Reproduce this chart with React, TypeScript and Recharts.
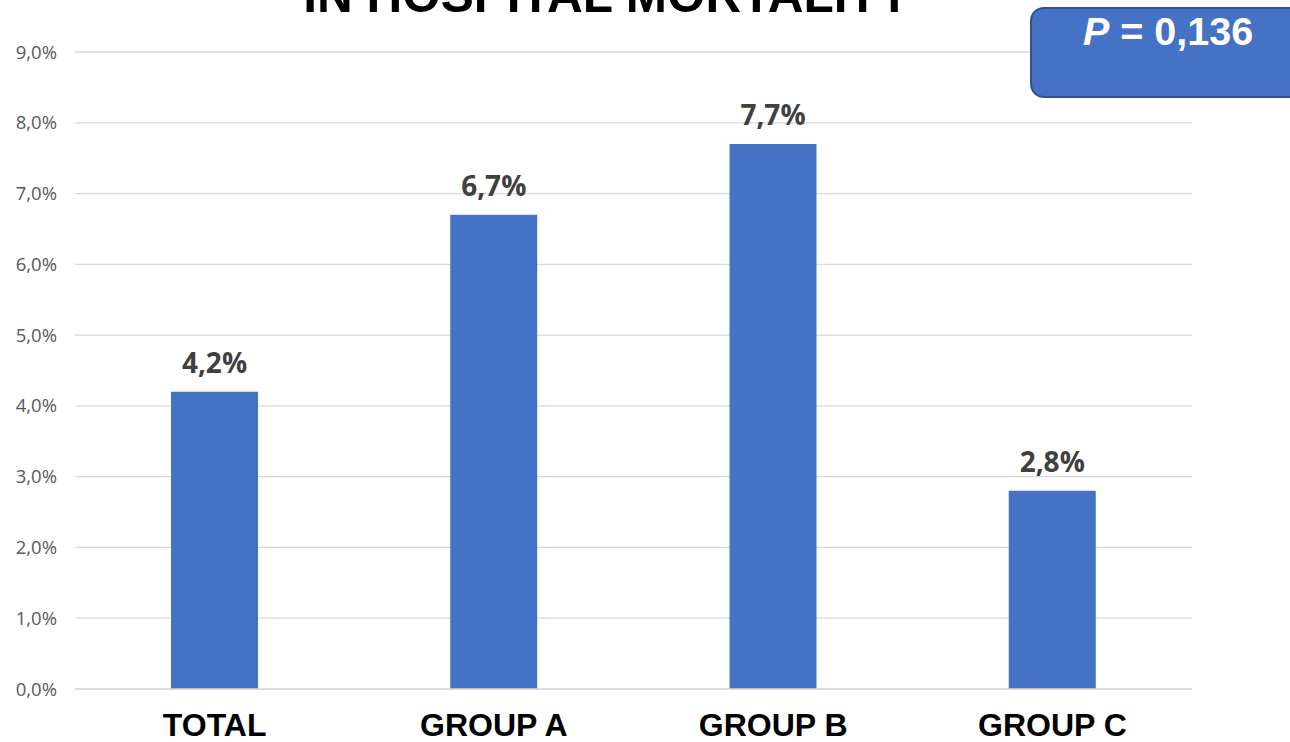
import { Bar, BarChart, CartesianGrid, LabelList, XAxis, YAxis } from "recharts";

const categories = ["TOTAL", "GROUP A", "GROUP B", "GROUP C"];
const mortality = [4.2, 6.7, 7.7, 2.8];
const yTicks = [0, 1, 2, 3, 4, 5, 6, 7, 8, 9];

const data = categories.map((name, i) => ({ name, value: mortality[i] }));

const fmt = (v: number) => `${v.toFixed(1).replace(".", ",")}%`;

export default function App() {
  return (
    <div style={{ position: "absolute", left: 0, top: 0, width: 1290, height: 742, overflow: "hidden", background: "#fff" }}>
      <BarChart
        width={1290}
        height={742}
        data={data}
        margin={{ top: 52, right: 98, left: 0, bottom: 0 }}
      >
        <CartesianGrid vertical={false} stroke="#D9D9D9" strokeWidth={1.3} />
        <XAxis
          dataKey="name"
          height={53}
          axisLine={{ stroke: "#D9D9D9", strokeWidth: 1.5 }}
          tickLine={false}
          tickSize={0}
          tickMargin={24}
          interval={0}
          tick={{ fill: "#000", fontSize: 32, fontWeight: 700, fontFamily: "'Liberation Sans', Arial, sans-serif" }}
        />
        <YAxis
          width={75}
          domain={[0, 9]}
          ticks={yTicks}
          tickFormatter={fmt}
          axisLine={false}
          tickLine={false}
          tickSize={0}
          tickMargin={18}
          tick={{ fill: "#595959", fontSize: 18.5, fontFamily: "'Open Sans', sans-serif" }}
        />
        <Bar dataKey="value" fill="#4472C4" barSize={87} isAnimationActive={false}>
          <LabelList
            dataKey="value"
            position="top"
            offset={19}
            formatter={(v: any) => fmt(Number(v))}
            style={{ fill: "#404040", fontSize: 28, fontWeight: 700, fontFamily: "'Open Sans', sans-serif" }}
          />
        </Bar>
      </BarChart>
      <svg width={1290} height={742} style={{ position: "absolute", left: 0, top: 0, pointerEvents: "none" }}>
        <text
          x={607}
          y={12}
          textAnchor="middle"
          fontSize={49.5}
          fontWeight={700}
          fontFamily="'Liberation Sans', Arial, sans-serif"
          fill="#000"
        >
          IN HOSPITAL MORTALITY
        </text>
        <rect x={1031} y={8} width={280} height={89} rx={13} fill="#4472C4" stroke="#2F528F" strokeWidth={2} />
        <text
          x={1168}
          y={45}
          textAnchor="middle"
          fontSize={39.5}
          fontWeight={700}
          fontFamily="'Liberation Sans', Arial, sans-serif"
          fill="#fff"
        >
          <tspan fontStyle="italic">P</tspan> = 0,136
        </text>
      </svg>
    </div>
  );
}
